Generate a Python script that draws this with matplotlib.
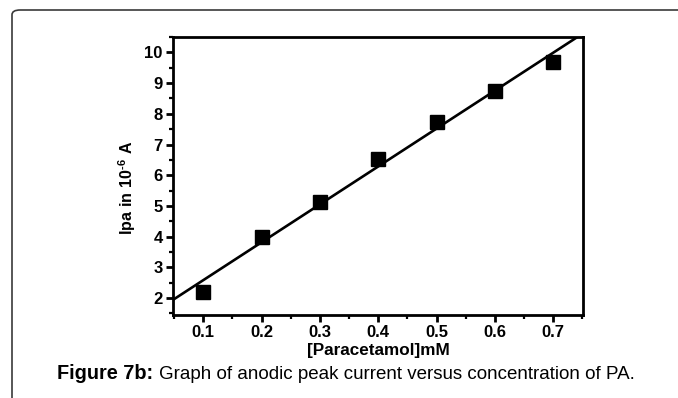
import numpy as np
import matplotlib
matplotlib.use("Agg")
import matplotlib.pyplot as plt
from matplotlib.patches import FancyBboxPatch
from matplotlib.ticker import MultipleLocator

plt.rcParams['font.family'] = ['Liberation Sans', 'DejaVu Sans']
plt.rcParams['mathtext.fontset'] = 'custom'
plt.rcParams['mathtext.rm'] = 'Liberation Sans'
plt.rcParams['mathtext.bf'] = 'Liberation Sans:bold'

# Paracetamol concentration (mM) and anodic peak current (10^-6 A)
concentration = [0.1, 0.2, 0.3, 0.4, 0.5, 0.6, 0.7]
peak_current = [2.2, 4.0, 5.12, 6.53, 7.73, 8.75, 9.68]
x_ticks = [0.1, 0.2, 0.3, 0.4, 0.5, 0.6, 0.7]
y_ticks = [2, 3, 4, 5, 6, 7, 8, 9, 10]

W, H = 678, 398
fig = plt.figure(figsize=(W / 100, H / 100), dpi=100)

# Rounded panel border
border = FancyBboxPatch((12 / W, -0.2), 1.2, 1.2 - 10 / H,
                        boxstyle="round,pad=0,rounding_size=0.012",
                        transform=fig.transFigure, fill=False,
                        edgecolor="#3a3a3a", linewidth=1.2, clip_on=False)
fig.patches.append(border)

ax = fig.add_axes([173 / W, 1 - 315 / H, (583 - 173) / W, (315 - 37) / H])
ax.set_xlim(0.048, 0.751)
ax.set_ylim(1.45, 10.5)

# Linear fit
slope, intercept = np.polyfit(concentration, peak_current, 1)
xs = np.array([0.0, 0.8])
ax.plot(xs, slope * xs + intercept, color="black", lw=1.9, zorder=2)
ax.plot(concentration, peak_current, linestyle="none", marker="s",
        markersize=9.5, color="black", zorder=3)

for s in ax.spines.values():
    s.set_linewidth(2.0)

ax.set_xticks(x_ticks)
ax.set_yticks(y_ticks)
ax.set_xticklabels([f"{v:.1f}" for v in x_ticks])
ax.set_yticklabels([str(v) for v in y_ticks])
ax.xaxis.set_minor_locator(MultipleLocator(0.05))
ax.yaxis.set_minor_locator(MultipleLocator(0.5))
ax.tick_params(which="major", direction="out", length=5, width=2,
               labelsize=12, pad=2.5)
ax.tick_params(which="minor", direction="out", length=3, width=1.6)
for lbl in ax.get_xticklabels() + ax.get_yticklabels():
    lbl.set_fontweight("bold")

fig.text(127 / W, 1 - 188 / H, "$\\mathbf{Ipa\\ in\\ 10^{\u20106}\\ A}$",
         rotation=90, ha="center", va="center", fontsize=11.5)
fig.text(378 / W, 1 - 351 / H, "[Paracetamol]mM", ha="center", va="center",
         fontsize=12.3, fontweight="bold")

cap_y = 1 - 379 / H
t1 = fig.text(57 / W, cap_y, "Figure 7b:", ha="left", va="baseline",
              fontsize=14.3, fontweight="bold")
fig.canvas.draw()
bb = t1.get_window_extent()
fig.text((bb.x1 + 6) / W, cap_y,
         "Graph of anodic peak current versus concentration of PA.",
         ha="left", va="baseline", fontsize=13.5)

fig.savefig("out.png", dpi=100)
